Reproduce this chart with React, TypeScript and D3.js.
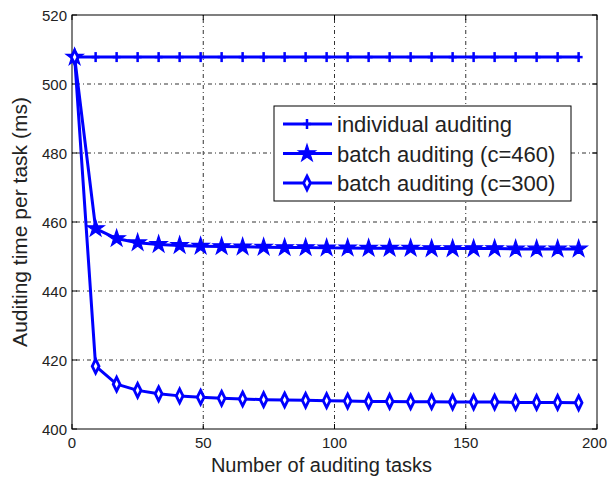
import React, { useEffect, useRef } from 'react';
import * as d3 from 'd3';

const tasks = [1, 9, 17, 25, 33, 41, 49, 57, 65, 73, 81, 89, 97, 105, 113, 121, 129, 137, 145, 153, 161, 169, 177, 185, 193];
const individual = [507.8, 507.8, 507.8, 507.8, 507.8, 507.8, 507.8, 507.8, 507.8, 507.8, 507.8, 507.8, 507.8, 507.8, 507.8, 507.8, 507.8, 507.8, 507.8, 507.8, 507.8, 507.8, 507.8, 507.8, 507.8];
const batch460 = [507.8, 458.1, 455.2, 454.0, 453.5, 453.2, 453.0, 452.9, 452.8, 452.7, 452.6, 452.6, 452.5, 452.5, 452.4, 452.4, 452.4, 452.3, 452.3, 452.3, 452.3, 452.2, 452.2, 452.2, 452.2];
const batch300 = [507.8, 418.2, 413.0, 411.2, 410.2, 409.6, 409.2, 408.9, 408.7, 408.5, 408.4, 408.3, 408.2, 408.1, 408.0, 408.0, 407.9, 407.9, 407.8, 407.8, 407.8, 407.7, 407.7, 407.7, 407.6];
const seriesNames = ['individual auditing', 'batch auditing (c=460)', 'batch auditing (c=300)'];
const xTicks = [0, 50, 100, 150, 200];
const yTicks = [400, 420, 440, 460, 480, 500, 520];

const BLUE = '#0000ff';
const FONT = '"Liberation Sans", Arial, sans-serif';

const App = () => {
    const svgRef = useRef<SVGSVGElement>(null);

    useEffect(() => {
        const svg = d3.select(svgRef.current);
        svg.selectAll('*').remove();

        const left = 72, top = 15, right = 597, bottom = 429;
        const x = d3.scaleLinear().domain([0, 200]).range([left, right]);
        const y = d3.scaleLinear().domain([400, 520]).range([bottom, top]);

        svg.append('rect').attr('width', 608).attr('height', 478).attr('fill', '#fff');

        // grid
        const grid = svg.append('g')
            .attr('stroke', '#000')
            .attr('stroke-width', 1)
            .attr('stroke-dasharray', '1,3,4,3')
            .attr('opacity', 0.8);
        xTicks.slice(1, -1).forEach(t => {
            grid.append('line').attr('x1', x(t)).attr('x2', x(t)).attr('y1', top).attr('y2', bottom);
        });
        yTicks.slice(1, -1).forEach(t => {
            grid.append('line').attr('x1', left).attr('x2', right).attr('y1', y(t)).attr('y2', y(t));
        });

        // frame and ticks
        svg.append('rect')
            .attr('x', left).attr('y', top)
            .attr('width', right - left).attr('height', bottom - top)
            .attr('fill', 'none').attr('stroke', '#000').attr('stroke-width', 1);
        const ticks = svg.append('g').attr('stroke', '#000').attr('stroke-width', 1);
        xTicks.forEach(t => {
            ticks.append('line').attr('x1', x(t)).attr('x2', x(t)).attr('y1', bottom).attr('y2', bottom - 5);
            ticks.append('line').attr('x1', x(t)).attr('x2', x(t)).attr('y1', top).attr('y2', top + 5);
        });
        yTicks.forEach(t => {
            ticks.append('line').attr('x1', left).attr('x2', left + 5).attr('y1', y(t)).attr('y2', y(t));
            ticks.append('line').attr('x1', right).attr('x2', right - 5).attr('y1', y(t)).attr('y2', y(t));
        });

        // tick labels (last one pushed against the right edge, as in the original)
        xTicks.forEach((t, i) => {
            const last = i === xTicks.length - 1;
            svg.append('text')
                .attr('x', last ? 607 : x(t)).attr('y', bottom + 19)
                .attr('text-anchor', last ? 'end' : 'middle')
                .style('font-family', FONT).style('font-size', '15px')
                .attr('fill', '#222')
                .text(t);
        });
        yTicks.forEach(t => {
            svg.append('text')
                .attr('x', left - 5).attr('y', y(t) + 6)
                .attr('text-anchor', 'end')
                .style('font-family', FONT).style('font-size', '15px')
                .attr('fill', '#222')
                .text(t);
        });

        // axis titles
        svg.append('text')
            .attr('x', (left + right) / 2 - 13).attr('y', 472)
            .attr('text-anchor', 'middle')
            .style('font-family', FONT).style('font-size', '20px')
            .attr('fill', '#222')
            .text('Number of auditing tasks');
        svg.append('text')
            .attr('transform', `translate(27, ${(top + bottom) / 2}) rotate(-90)`)
            .attr('text-anchor', 'middle')
            .style('font-family', FONT).style('font-size', '21px')
            .attr('fill', '#222')
            .text('Auditing time per task (ms)');

        const line = d3.line<number>()
            .x((d, i) => x(tasks[i]))
            .y(d => y(d));

        const star = d3.symbol().type(d3.symbolStar).size(90);
        const diamond = d3.symbol().type(d3.symbolDiamond).size(55);

        const drawMarker = (g, kind, cx, cy) => {
            if (kind === 0) {
                g.append('line').attr('x1', cx - 4).attr('x2', cx + 4).attr('y1', cy).attr('y2', cy)
                    .attr('stroke', BLUE).attr('stroke-width', 2.5);
                g.append('line').attr('x1', cx).attr('x2', cx).attr('y1', cy - 5).attr('y2', cy + 5)
                    .attr('stroke', BLUE).attr('stroke-width', 2.5);
            } else if (kind === 1) {
                g.append('path').attr('d', star).attr('transform', `translate(${cx},${cy})`)
                    .attr('fill', BLUE).attr('stroke', BLUE).attr('stroke-width', 1.2);
            } else {
                g.append('path').attr('d', diamond).attr('transform', `translate(${cx},${cy}) scale(0.85,1)`)
                    .attr('fill', '#fff').attr('stroke', BLUE).attr('stroke-width', 3.2);
            }
        };

        const series = [individual, batch460, batch300];
        series.forEach((vals, k) => {
            const g = svg.append('g');
            g.append('path')
                .datum(vals)
                .attr('d', line)
                .attr('fill', 'none')
                .attr('stroke', BLUE)
                .attr('stroke-width', 3)
                .attr('stroke-linejoin', 'round');
            vals.forEach((v, i) => drawMarker(g, k, x(tasks[i]), y(v)));
        });

        // legend
        const lg = svg.append('g');
        lg.append('rect')
            .attr('x', 274).attr('y', 106).attr('width', 297).attr('height', 95)
            .attr('fill', '#fff').attr('stroke', '#000').attr('stroke-width', 1);
        seriesNames.forEach((name, k) => {
            const ry = 124 + k * 29.5;
            lg.append('line').attr('x1', 283).attr('x2', 332).attr('y1', ry).attr('y2', ry)
                .attr('stroke', BLUE).attr('stroke-width', 3);
            drawMarker(lg, k, 307, ry);
            lg.append('text')
                .attr('x', 337).attr('y', ry + 8)
                .style('font-family', FONT).style('font-size', '22px')
                .attr('fill', '#222')
                .text(name);
        });
    }, []);

    return (
        <svg ref={svgRef} width={608} height={478}
            style={{ position: 'absolute', left: 0, top: 0, display: 'block' }}></svg>
    );
};

export default App;
